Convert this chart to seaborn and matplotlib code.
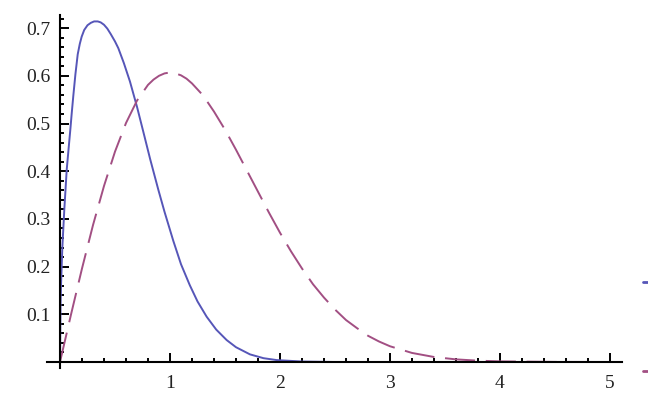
import matplotlib
matplotlib.use("Agg")
import matplotlib.pyplot as plt
from matplotlib.lines import Line2D
from matplotlib.ticker import MultipleLocator
import seaborn as sns

# blue solid curve
blue_x = [0, 0.005, 0.01, 0.021, 0.039, 0.061, 0.08, 0.095, 0.106, 0.121, 0.14, 0.161, 0.18,
          0.197, 0.22, 0.25, 0.28, 0.31, 0.343, 0.37, 0.4, 0.43, 0.46, 0.5, 0.53, 0.58, 0.636,
          0.7, 0.757, 0.82, 0.894, 0.95, 1.03, 1.1, 1.18, 1.25, 1.333, 1.42, 1.515, 1.6, 1.727,
          1.85, 1.97, 2.2, 2.5, 3, 4, 5]
blue_y = [0, 0.12, 0.165, 0.239, 0.319, 0.403, 0.452, 0.49, 0.52, 0.558, 0.603, 0.645, 0.667,
          0.682, 0.696, 0.706, 0.711, 0.714, 0.714, 0.712, 0.707, 0.699, 0.688, 0.672, 0.658,
          0.627, 0.588, 0.535, 0.483, 0.425, 0.361, 0.315, 0.254, 0.205, 0.161, 0.127, 0.095,
          0.068, 0.046, 0.031, 0.016, 0.008, 0.004, 0.001, 0.0, 0.0, 0.0, 0.0]

# dashed curve
dash_x = [0, 0.1, 0.2, 0.3, 0.4, 0.5, 0.6, 0.7, 0.8, 0.85, 0.9, 0.95, 1.0, 1.05, 1.1, 1.15,
          1.2, 1.3, 1.4, 1.5, 1.6, 1.7, 1.8, 1.9, 2.0, 2.1, 2.2, 2.3, 2.4, 2.5, 2.6, 2.7, 2.8,
          2.9, 3.0, 3.2, 3.4, 3.6, 3.8, 4.0, 4.5, 5.0]
dash_y = [0, 0.0995, 0.196, 0.287, 0.369, 0.441, 0.501, 0.548, 0.581, 0.592, 0.600, 0.605,
          0.607, 0.605, 0.601, 0.594, 0.584, 0.559, 0.525, 0.487, 0.445, 0.401, 0.357, 0.313,
          0.271, 0.232, 0.196, 0.163, 0.135, 0.110, 0.088, 0.071, 0.055, 0.043, 0.033, 0.019,
          0.0105, 0.0055, 0.0028, 0.0013, 0.0002, 0.0]

x_ticks = [1, 2, 3, 4, 5]
y_ticks = [0.1, 0.2, 0.3, 0.4, 0.5, 0.6, 0.7]

blue = "#5656b8"
purple = "#a24f83"

sns.set_style("ticks")
plt.rcParams["font.family"] = ["Liberation Serif", "DejaVu Serif"]

fig = plt.figure(figsize=(6.48, 4.04), dpi=100)
ax = fig.add_axes([47 / 648, 1 - 368 / 404, (622 - 47) / 648, (368 - 15) / 404])

sns.lineplot(x=blue_x, y=blue_y, ax=ax, color=blue, linewidth=1.4, sort=False)
sns.lineplot(x=dash_x, y=dash_y, ax=ax, color=purple, linewidth=1.4, sort=False)
ax.lines[-1].set_dashes([15.5, 5.5])

ax.set_xlim((47 - 60) / 110, (622 - 60) / 110)
ax.set_ylim((362 - 368) / 477, (362 - 15) / 477)

for side in ["top", "right"]:
    ax.spines[side].set_visible(False)
ax.spines["left"].set_position(("data", 0))
ax.spines["bottom"].set_position(("data", 0))
for side in ["left", "bottom"]:
    ax.spines[side].set_color("black")
    ax.spines[side].set_linewidth(1.5)

ax.set_xticks(x_ticks)
ax.set_yticks(y_ticks)
ax.set_xticklabels([str(t) for t in x_ticks])
ax.set_yticklabels([f"{t:.1f}" for t in y_ticks])
ax.xaxis.set_minor_locator(MultipleLocator(0.2))
ax.yaxis.set_minor_locator(MultipleLocator(0.02))
ax.tick_params(which="both", direction="in", color="black", width=1.4, labelsize=14,
               bottom=True, left=True, top=False, right=False, labelcolor="#222222")
ax.tick_params(which="major", length=6.5)
ax.tick_params(which="minor", length=3)
ax.tick_params(axis="x", which="major", pad=9)
ax.tick_params(axis="y", which="major", pad=7)

# clipped legend swatches at the right edge
fig.add_artist(Line2D([643 / 648, 1.0], [1 - 282 / 404] * 2, color=blue, linewidth=2))
fig.add_artist(Line2D([643 / 648, 1.0], [1 - 371 / 404] * 2, color=purple, linewidth=2))

fig.savefig("out.png", dpi=100)
